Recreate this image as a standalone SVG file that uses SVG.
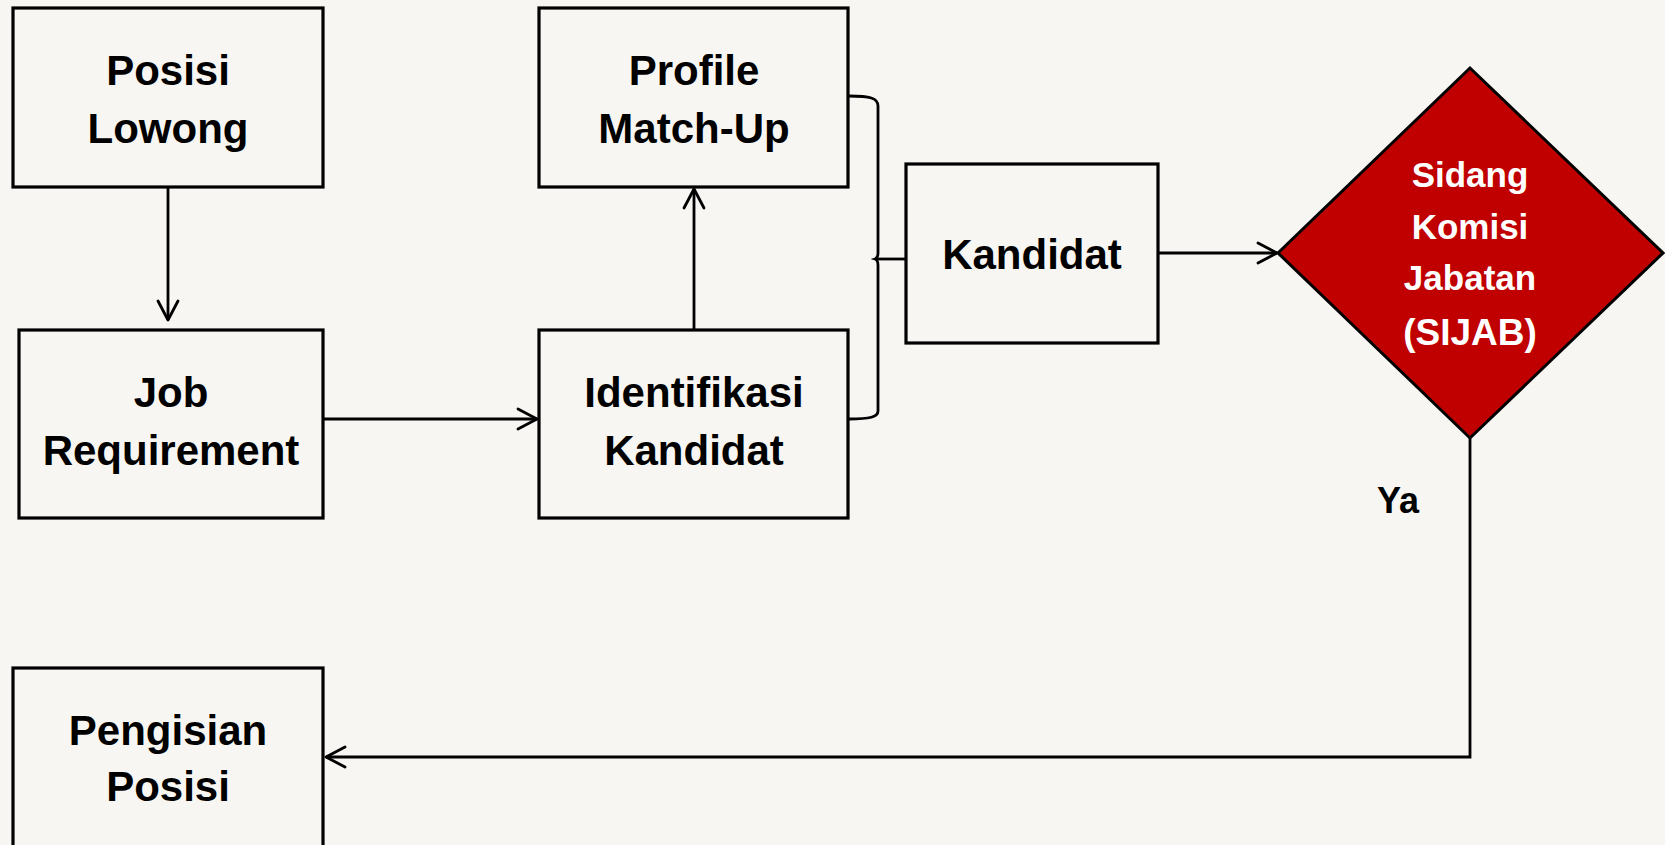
<svg xmlns="http://www.w3.org/2000/svg" width="1665" height="845" viewBox="0 0 1665 845">
<style>
.box{fill:none;stroke:#000;stroke-width:3.2}
.lbl{font-family:"Liberation Sans",Arial,sans-serif;font-weight:bold;font-size:42px;fill:#000;text-anchor:middle}
.dlbl{font-family:"Liberation Sans",Arial,sans-serif;font-weight:bold;font-size:35px;fill:#fff;text-anchor:middle}
.conn{fill:none;stroke:#000;stroke-width:2.8}
</style>
<defs>
<marker id="arr" viewBox="0 0 24 24" refX="22" refY="12" markerWidth="24" markerHeight="24" markerUnits="userSpaceOnUse" orient="auto">
<path d="M3,2 L22,12 L3,22" fill="none" stroke="#000" stroke-width="2.8" stroke-linecap="round" stroke-linejoin="round"/>
</marker>
</defs>
<rect width="1665" height="845" fill="#F8F6F2"/>
<g id="posisi-lowong">
<rect class="box" x="13" y="8" width="310" height="179"/>
<text class="lbl" x="168" y="85">Posisi</text>
<text class="lbl" x="168" y="143">Lowong</text>
</g>
<g id="job-requirement">
<rect class="box" x="19" y="330" width="304" height="188"/>
<text class="lbl" x="171" y="407">Job</text>
<text class="lbl" x="171" y="465">Requirement</text>
</g>
<g id="profile-match-up">
<rect class="box" x="539" y="8" width="309" height="179"/>
<text class="lbl" x="694" y="85">Profile</text>
<text class="lbl" x="694" y="143">Match-Up</text>
</g>
<g id="identifikasi-kandidat">
<rect class="box" x="539" y="330" width="309" height="188"/>
<text class="lbl" x="694" y="407">Identifikasi</text>
<text class="lbl" x="694" y="465">Kandidat</text>
</g>
<g id="kandidat">
<rect class="box" x="906" y="164" width="252" height="179"/>
<text class="lbl" x="1032" y="269">Kandidat</text>
</g>
<g id="sijab">
<polygon points="1470,68 1663,253 1470,438 1278,253" fill="#C00000" stroke="#000" stroke-width="3"/>
<text class="dlbl" x="1470" y="187">Sidang</text>
<text class="dlbl" x="1470" y="239">Komisi</text>
<text class="dlbl" x="1470" y="290">Jabatan</text>
<text class="dlbl" x="1470" y="345" style="font-size:37px">(SIJAB)</text>
</g>
<g id="pengisian-posisi">
<rect class="box" x="13" y="668" width="310" height="190"/>
<text class="lbl" x="168" y="745">Pengisian</text>
<text class="lbl" x="168" y="801">Posisi</text>
</g>
<g id="connectors">
<line class="conn" x1="168" y1="187" x2="168" y2="320" marker-end="url(#arr)"/>
<line class="conn" x1="323" y1="419" x2="537" y2="419" marker-end="url(#arr)"/>
<line class="conn" x1="694" y1="330" x2="694" y2="189" marker-end="url(#arr)"/>
<path class="conn" d="M849,96 C870,96 878,98 878,106 L878,253 Q878,258 875,259 Q878,260 878,265 L878,411 C878,417 870,419 849,419"/>
<line class="conn" x1="876" y1="259" x2="906" y2="259"/>
<line class="conn" x1="1158" y1="253" x2="1277" y2="253" marker-end="url(#arr)"/>
<polyline class="conn" points="1470,438 1470,757 326,757" marker-end="url(#arr)"/>
<text class="lbl" x="1398" y="513" style="font-size:36px">Ya</text>
</g>
</svg>
